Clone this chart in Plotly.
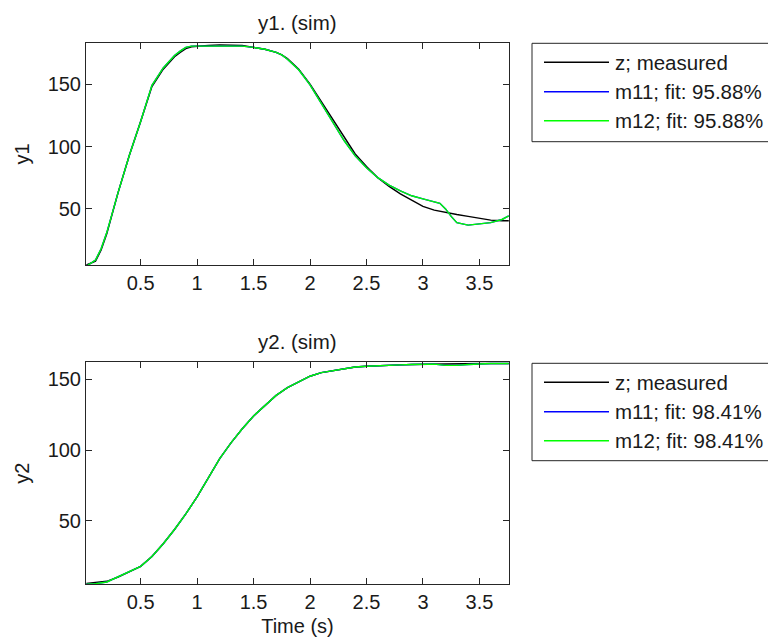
import plotly.graph_objects as go

# ---------------- data ----------------
t1 = [0.02, 0.1, 0.15, 0.2, 0.3, 0.4, 0.5, 0.6, 0.7, 0.8, 0.85, 0.9, 0.95, 1.0, 1.1, 1.2, 1.3, 1.4,
      1.5, 1.6, 1.7, 1.75, 1.8, 1.85, 1.9, 2.0, 2.1, 2.2, 2.3, 2.4, 2.5, 2.6, 2.7, 2.8, 2.9,
      3.0, 3.1, 3.15, 3.2, 3.25, 3.3, 3.4, 3.5, 3.6, 3.7, 3.76]
y1_measured = [5, 8, 17, 30, 63, 93, 120, 148, 162, 172, 175.5, 178.5, 180, 180.5, 181, 181.5, 181.5, 181,
               179.5, 178, 175.5, 173.5, 170.5, 166.5, 162, 150, 136, 121, 107, 94, 84, 75, 68, 62, 57,
               52, 49, 48, 47, 46.3, 45.5, 44, 42.5, 41, 40.5, 40.5]
y1_m11 = [4, 9, 18, 31, 63, 93, 120, 149, 163, 173, 176.5, 179.5, 180.5, 180.5, 181, 181, 181, 180.5,
          179.5, 178, 175.5, 173.5, 170, 166, 161.5, 149.5, 135, 119.5, 105, 92.5, 83, 75, 69, 64.5, 60.5,
          58, 56, 54.5, 50, 44, 39, 37, 38, 39, 41.5, 44.5]
y1_m12 = list(y1_m11)

t2 = [0.02, 0.1, 0.2, 0.3, 0.4, 0.5, 0.6, 0.7, 0.8, 0.9, 1.0, 1.1, 1.2, 1.3, 1.4,
      1.5, 1.6, 1.7, 1.8, 1.9, 2.0, 2.1, 2.2, 2.3, 2.4, 2.5, 2.6, 2.7, 2.8, 2.9,
      3.0, 3.1, 3.2, 3.3, 3.4, 3.5, 3.6, 3.7, 3.76]
y2_measured = [6, 6.5, 7.5, 10.5, 14, 18, 25, 34, 44, 55, 67, 81, 94, 105, 115,
               124, 131.5, 138.5, 144, 148, 152, 154.5, 156, 157.5, 158.5, 159, 159.5, 159.8, 160, 160.2,
               160.4, 160.6, 160.7, 160.8, 160.9, 161, 161, 161, 161]
y2_m11 = [5.5, 5.8, 7, 10.5, 14, 18, 25, 34, 44, 55, 67, 81, 94, 105, 115,
          124, 131.5, 138.5, 144, 148, 152, 154.5, 156, 157.5, 158.5, 159, 159.5, 159.8, 160, 160.2,
          160.4, 160.5, 159.6, 159.6, 160.3, 160.8, 161, 161, 161]
y2_m12 = list(y2_m11)

series_names = ["z; measured", "m11", "m12"]
series_colors = ["#000000", "#0000ff", "#00ff00"]
fit_y1 = [None, 95.88, 95.88]
fit_y2 = [None, 98.41, 98.41]

panel_titles = ["y1. (sim)", "y2. (sim)"]
y_labels = ["y1", "y2"]
x_label = "Time (s)"
x_tickvals = [0.5, 1, 1.5, 2, 2.5, 3, 3.5]
x_ticktext = ["0.5", "1", "1.5", "2", "2.5", "3", "3.5"]
y_tickvals = [50, 100, 150]
y_ticktext = ["50", "100", "150"]

# ---------------- layout geometry ----------------
W, H = 768, 639
FONT = "Liberation Sans, Arial, sans-serif"
AX = "#262626"
TXT = "#1a1a1a"
FS = 20


def px_x(p):
    return p / W


def px_y(p):
    return 1 - p / H


x_dom = [px_x(86), px_x(509)]
top_dom = [px_y(265), px_y(43)]
bot_dom = [px_y(584), px_y(362.3)]

fig = go.Figure()

panels = [
    (t1, [y1_measured, y1_m11, y1_m12], "x", "y"),
    (t2, [y2_measured, y2_m11, y2_m12], "x2", "y2"),
]
for t, ys, xa, ya in panels:
    for name, col, yv in zip(series_names, series_colors, ys):
        fig.add_trace(go.Scatter(x=t, y=yv, mode="lines", name=name, xaxis=xa, yaxis=ya,
                                 line=dict(color=col, width=1.4), showlegend=False))

axis_common = dict(showline=True, linecolor=AX, linewidth=1, mirror="allticks",
                   ticks="inside", ticklen=6, tickcolor=AX, tickwidth=1,
                   showgrid=False, zeroline=False, automargin=False,
                   tickfont=dict(family=FONT, size=FS, color=TXT))

fig.update_layout(
    width=W, height=H,
    margin=dict(l=0, r=0, t=0, b=0),
    paper_bgcolor="white", plot_bgcolor="white",
    xaxis=dict(domain=x_dom, anchor="y", range=[0.016, 3.762],
               tickvals=x_tickvals, ticktext=x_ticktext, **axis_common),
    yaxis=dict(domain=top_dom, anchor="x", range=[5, 183],
               tickvals=y_tickvals, ticktext=y_ticktext,
               title=dict(text=y_labels[0], standoff=12, font=dict(family=FONT, size=FS, color=TXT)),
               **axis_common),
    xaxis2=dict(domain=x_dom, anchor="y2", range=[0.016, 3.762],
                tickvals=x_tickvals, ticktext=x_ticktext,
                title=dict(text=x_label, standoff=6, font=dict(family=FONT, size=FS, color=TXT)),
                **axis_common),
    yaxis2=dict(domain=bot_dom, anchor="x2", range=[5.6, 161.8],
                tickvals=y_tickvals, ticktext=y_ticktext,
                title=dict(text=y_labels[1], standoff=12, font=dict(family=FONT, size=FS, color=TXT)),
                **axis_common),
)

# panel titles
for title, ycen in zip(panel_titles, [23, 341]):
    fig.add_annotation(text=title, xref="paper", yref="paper", x=(x_dom[0] + x_dom[1]) / 2,
                       y=px_y(ycen), xanchor="center", yanchor="middle", showarrow=False,
                       font=dict(family=FONT, size=20.5, color=TXT))

# legends (MATLAB-style boxes)
legend_specs = [(43.3, 141.7, [62.3, 91.7, 120.7], fit_y1),
                (363.3, 460.7, [382.3, 411.7, 440.7], fit_y2)]
for top, bottom, rows, fits in legend_specs:
    fig.add_shape(type="rect", xref="paper", yref="paper",
                  x0=px_x(532), x1=px_x(775), y0=px_y(bottom), y1=px_y(top),
                  line=dict(color=AX, width=1), fillcolor="white", layer="above")
    for name, col, fit, ry in zip(series_names, series_colors, fits, rows):
        fig.add_shape(type="line", xref="paper", yref="paper",
                      x0=px_x(544), x1=px_x(609), y0=px_y(ry), y1=px_y(ry),
                      line=dict(color=col, width=1.4), layer="above")
        label = name if fit is None else f"{name}; fit: {fit:.2f}%"
        fig.add_annotation(text=label, xref="paper", yref="paper", x=px_x(613), y=px_y(ry),
                           xanchor="left", yanchor="middle", showarrow=False,
                           font=dict(family=FONT, size=20.5, color=TXT))

fig.write_html("out.html")
